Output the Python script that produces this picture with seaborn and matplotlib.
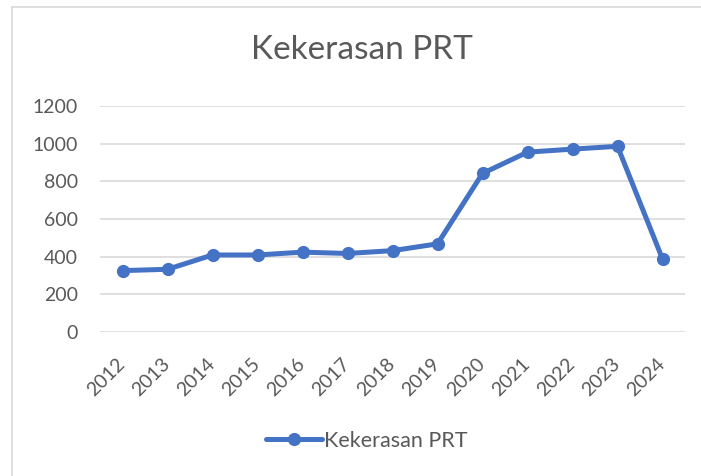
import numpy as np
import pandas as pd
import matplotlib
matplotlib.use('Agg')
import matplotlib.pyplot as plt
from matplotlib.lines import Line2D
import seaborn as sns

# Data
years = [2012, 2013, 2014, 2015, 2016, 2017, 2018, 2019, 2020, 2021, 2022, 2023, 2024]
cases = [326, 333, 409, 409, 424, 417, 432, 468, 842, 955, 971, 986, 388]
y_ticks = [0, 200, 400, 600, 800, 1000, 1200]
series_name = 'Kekerasan PRT'

df = pd.DataFrame({'year': years, 'cases': cases})

sns.set_style('white')
plt.rcParams['font.family'] = ['Lato', 'DejaVu Sans']

W, H = 701, 476
fig = plt.figure(figsize=(W / 100, H / 100), dpi=100)
ax = fig.add_axes([100 / W, (H - 332) / H, 585 / W, 226 / H])

blue = '#4472C4'
grey_text = '#595959'
grid_col = '#D9D9D9'

sns.lineplot(data=df, x='year', y='cases', ax=ax, color=blue, linewidth=3.6,
             marker='o', markersize=9.5, markeredgewidth=0, label=series_name,
             legend=False)

ax.set_xlim(years[0] - 0.5, years[-1] + 0.5)
ax.set_ylim(0, 1200)
ax.set_yticks(y_ticks)
ax.set_xticks(years)
ax.set_xticklabels([str(y) for y in years])
ax.yaxis.grid(True, color=grid_col, linewidth=1.2)
ax.xaxis.grid(False)
ax.set_axisbelow(True)
for s in ax.spines.values():
    s.set_visible(False)
ax.set_xlabel('')
ax.set_ylabel('')

ax.tick_params(axis='y', length=0, pad=16, labelsize=14, labelcolor=grey_text)
ax.tick_params(axis='x', length=0, pad=21, labelsize=14, labelcolor=grey_text)
plt.setp(ax.get_xticklabels(), rotation=45, ha='right', va='center',
         rotation_mode='anchor')

fig.text(362 / W, 1 - 50 / H, series_name, ha='center', va='center',
         fontsize=24, color=grey_text)

handle = Line2D([], [], color=blue, linewidth=3.6, marker='o', markersize=9.5,
                markeredgewidth=0)
fig.legend([handle], [series_name], loc='center', bbox_to_anchor=(367 / W, 1 - 441 / H),
           frameon=False, fontsize=15.5, handlelength=2.6, handletextpad=0.1,
           labelcolor=grey_text)

# chart area border (left and top visible, rest cropped)
fig.add_artist(Line2D([12 / W, 12 / W], [0, 1 - 7 / H], color=grid_col, linewidth=1.2))
fig.add_artist(Line2D([12 / W, 1], [1 - 7 / H, 1 - 7 / H], color=grid_col, linewidth=1.2))

fig.savefig('out.png', dpi=100, facecolor='white')
